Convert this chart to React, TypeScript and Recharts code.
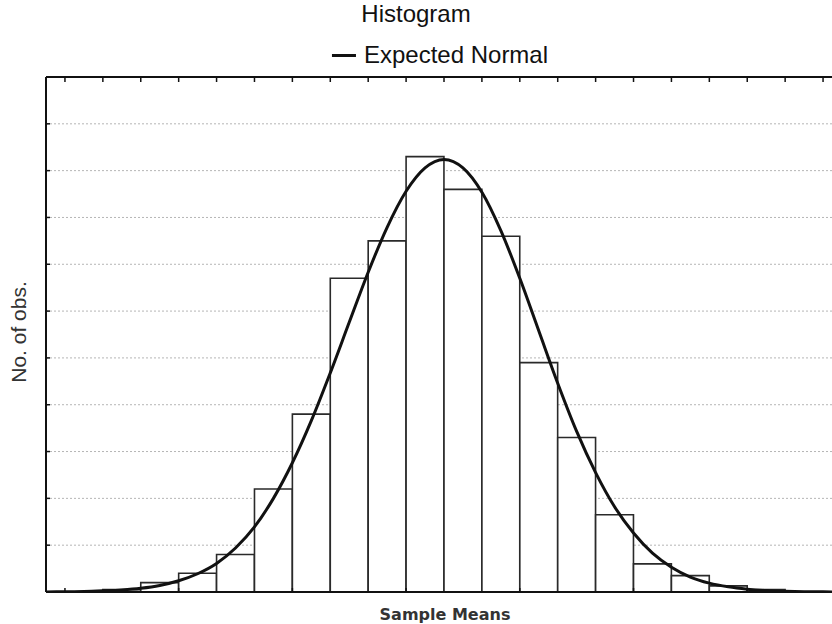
import React from "react";
import {
  ComposedChart,
  Bar,
  Line,
  XAxis,
  YAxis,
  CartesianGrid,
} from "recharts";

// bin centres, in bin widths from the middle of the distribution
const binCenters = [
  -8.5, -7.5, -6.5, -5.5, -4.5, -3.5, -2.5, -1.5, -0.5,
  0.5, 1.5, 2.5, 3.5, 4.5, 5.5, 6.5, 7.5, 8.5,
];
const binCounts = [
  0.5, 2, 4, 8, 22, 38, 67, 75, 93,
  86, 76, 49, 33, 16.5, 6, 3.5, 1.3, 0.5,
];

// expected normal curve
const curveX = [
  -10.5, -10, -9.5, -9, -8.5, -8, -7.5, -7, -6.5, -6, -5.5, -5, -4.5, -4,
  -3.5, -3, -2.5, -2, -1.5, -1, -0.5, 0, 0.5, 1, 1.5, 2, 2.5, 3, 3.5, 4,
  4.5, 5, 5.5, 6, 6.5, 7, 7.5, 8, 8.5, 9, 9.5, 10, 10.5,
];
const curveY = [
  0.02, 0.05, 0.1, 0.25, 0.45, 0.8, 1.4, 2.4, 3.9, 6.1, 9.4, 13.9, 20.0, 27.6,
  36.6, 46.8, 57.6, 68.3, 77.9, 85.6, 90.6, 92.4, 90.6, 85.4, 77.2, 67.0, 55.8,
  44.6, 34.3, 25.5, 18.2, 12.6, 8.3, 5.3, 3.2, 1.9, 1.1, 0.6, 0.3, 0.15, 0.07,
  0.03, 0.01,
];

const yTicks = [0, 10, 20, 30, 40, 50, 60, 70, 80, 90, 100, 110];
const topTicks = [
  -10, -9, -8, -7, -6, -5, -4, -3, -2, -1, 0, 1, 2, 3, 4, 5, 6, 7, 8, 9, 10,
];
const bottomTicks = [-10, -7, -4, -1, 2, 5, 8];

const bins = binCenters.map((x, i) => ({ x, count: binCounts[i] }));
const curve = curveX.map((x, i) => ({ x, y: curveY[i] }));

const CHART_W = 850;
const CHART_H = 624;
// axes take 1px each, margins make the plot 47..842 x 78..591
const MARGIN = { top: 77, right: 8, bottom: 32, left: 46 };
const PLOT_W = CHART_W - MARGIN.left - 1 - MARGIN.right;
const BAR_W = PLOT_W / 21;

const blank = () => "";
const axisStroke = { stroke: "#111", strokeWidth: 2 };
const tickStroke = { stroke: "#111", strokeWidth: 1.5 };

export default function App() {
  return (
    <div
      style={{
        position: "absolute",
        left: 0,
        top: 0,
        width: 832,
        height: 624,
        overflow: "hidden",
        background: "#fff",
        fontFamily: "'Liberation Sans', Arial, sans-serif",
        color: "#111",
      }}
    >
      <ComposedChart
        width={CHART_W}
        height={CHART_H}
        data={bins}
        margin={MARGIN}
        barCategoryGap={0}
      >
        <CartesianGrid
          vertical={false}
          stroke="#b5b5b5"
          strokeDasharray="2 2"
        />
        <XAxis
          xAxisId="bottom"
          dataKey="x"
          type="number"
          domain={[-10.5, 10.5]}
          allowDataOverflow
          ticks={bottomTicks}
          tickFormatter={blank}
          height={1}
          mirror
          tickSize={4}
          axisLine={axisStroke}
          tickLine={tickStroke}
        />
        <XAxis
          xAxisId="top"
          orientation="top"
          dataKey="x"
          type="number"
          domain={[-10.5, 10.5]}
          allowDataOverflow
          ticks={topTicks}
          tickFormatter={blank}
          height={1}
          mirror
          tickSize={5}
          axisLine={axisStroke}
          tickLine={tickStroke}
        />
        <YAxis
          type="number"
          domain={[0, 110]}
          allowDataOverflow
          ticks={yTicks}
          tickFormatter={blank}
          width={1}
          mirror
          tickSize={4}
          axisLine={axisStroke}
          tickLine={tickStroke}
        />
        <Bar
          xAxisId="bottom"
          dataKey="count"
          barSize={BAR_W - 0.01}
          fill="#fff"
          stroke="#2a2a2a"
          strokeWidth={1.6}
          isAnimationActive={false}
        />
        <Line
          xAxisId="top"
          data={curve}
          dataKey="y"
          type="monotone"
          stroke="#111"
          strokeWidth={3}
          dot={false}
          isAnimationActive={false}
        />
      </ComposedChart>

      <div
        style={{
          position: "absolute",
          left: 416,
          top: 14,
          transform: "translate(-50%, -50%)",
          fontSize: 24,
          whiteSpace: "nowrap",
        }}
      >
        Histogram
      </div>
      <div
        style={{
          position: "absolute",
          left: 440,
          top: 55,
          transform: "translate(-50%, -50%)",
          fontSize: 24,
          whiteSpace: "nowrap",
          display: "flex",
          alignItems: "center",
        }}
      >
        <span
          style={{
            display: "inline-block",
            width: 24,
            height: 3,
            background: "#111",
            marginRight: 8,
          }}
        />
        Expected Normal
      </div>
      <div
        style={{
          position: "absolute",
          left: 19,
          top: 332,
          transform: "translate(-50%, -50%) rotate(-90deg)",
          fontSize: 21,
          whiteSpace: "nowrap",
          color: "#333",
        }}
      >
        No. of obs.
      </div>
      <div
        style={{
          position: "absolute",
          left: 445,
          top: 614,
          transform: "translate(-50%, -50%)",
          fontSize: 16,
          fontWeight: "bold",
          fontFamily: "'DejaVu Sans', Verdana, sans-serif",
          color: "#333",
          whiteSpace: "nowrap",
        }}
      >
        Sample Means
      </div>
    </div>
  );
}
